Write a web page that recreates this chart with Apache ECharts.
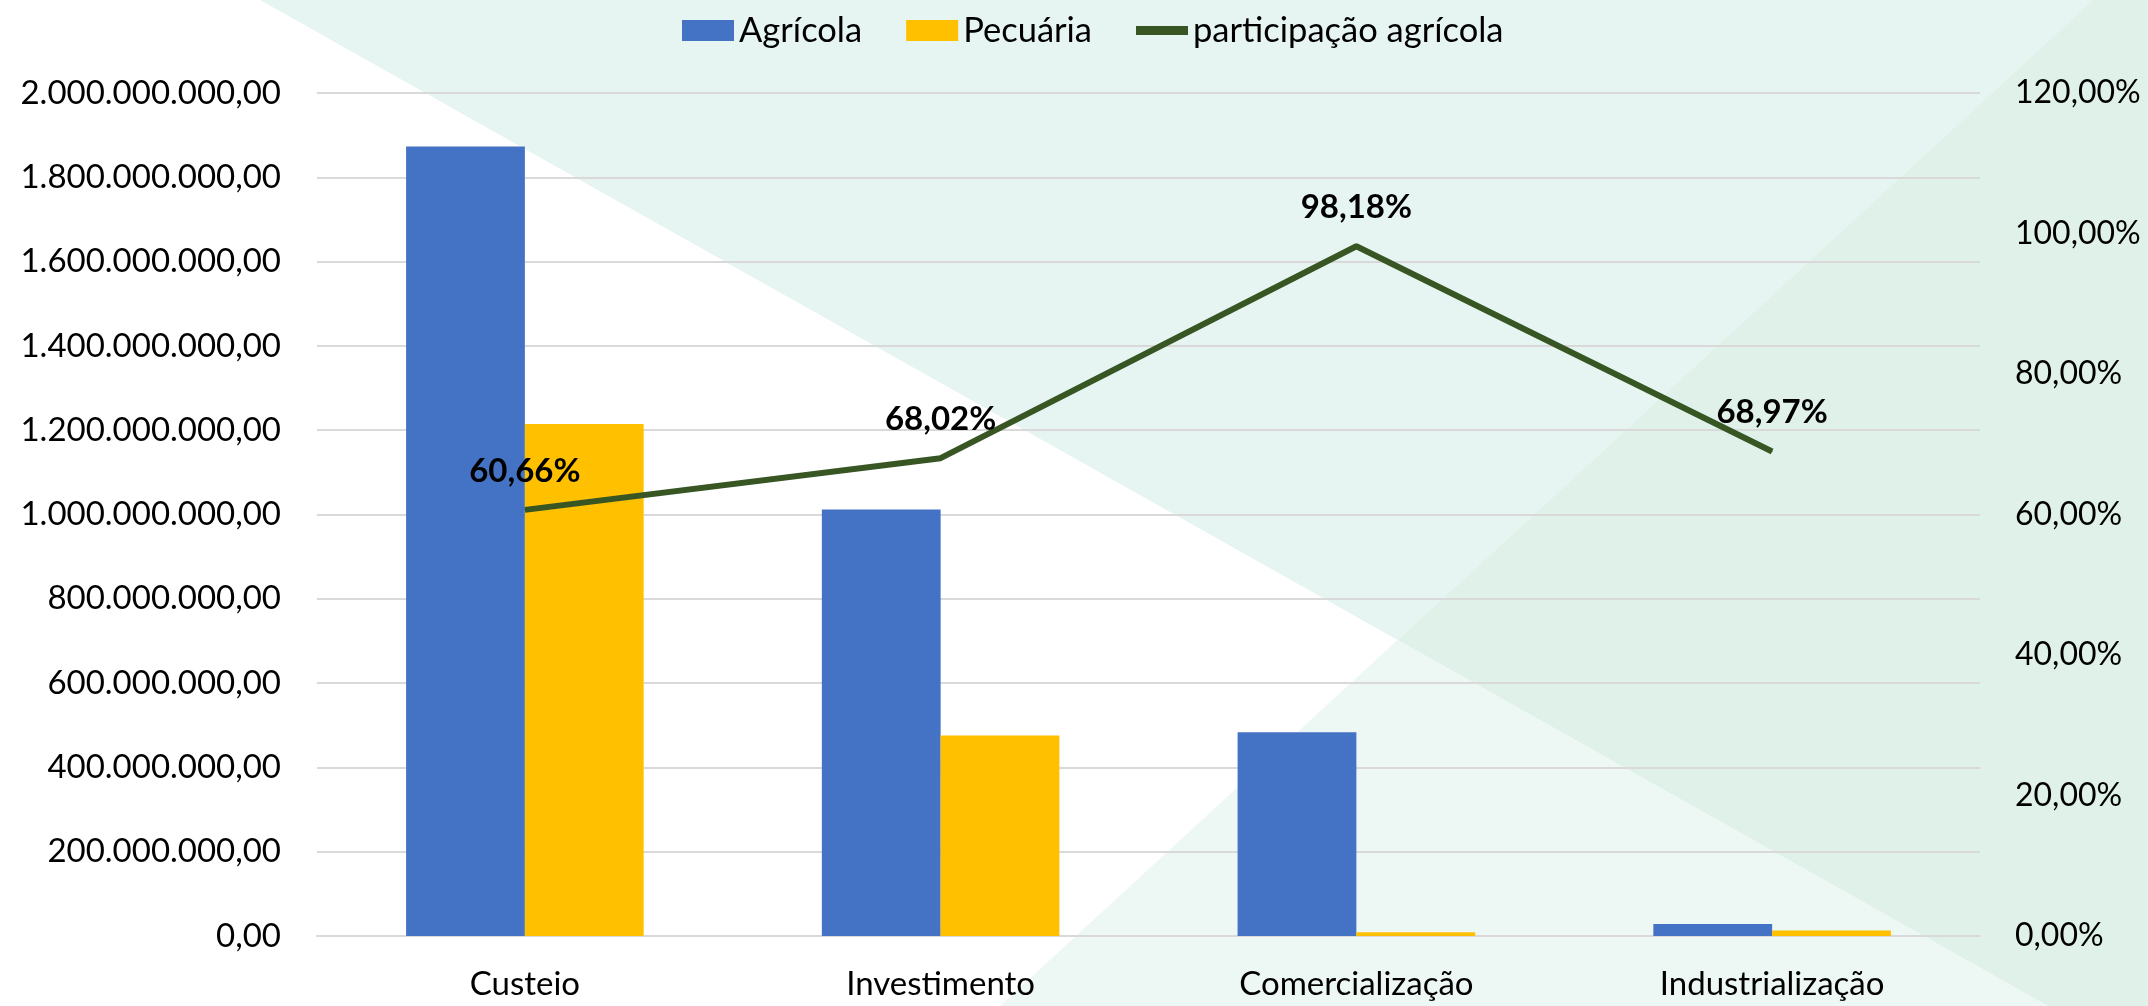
<!DOCTYPE html>
<html>
<head>
<meta charset="utf-8">
<script src="https://cdn.jsdelivr.net/npm/echarts@6/dist/echarts.min.js"></script>
<style>
  html, body { margin: 0; padding: 0; background: #ffffff; }
  #chart { width: 2148px; height: 1006px; }
</style>
</head>
<body>
<div id="chart"></div>
<script>
// ---- data ----
const categories = ['Custeio', 'Investimento', 'Comercialização', 'Industrialização'];
const agricola = [1873000000, 1012000000, 483500000, 28500000];
const pecuaria = [1214700000, 475800000, 9000000, 12800000];
const participacao = [0.6066, 0.6802, 0.9818, 0.6897];
const seriesNames = ['Agrícola', 'Pecuária', 'participação agrícola'];

// ---- formatting helpers ----
function fmtBRL(v) {
  const s = Math.round(v).toString().replace(/\B(?=(\d{3})+(?!\d))/g, '.');
  return s + ',00';
}
function fmtPct(v) {
  return (v * 100).toFixed(2).replace('.', ',') + '%';
}

const FONT = 'Lato';
const W = 2148, H = 1006;

const chart = echarts.init(document.getElementById('chart'), null, { renderer: 'canvas' });

// decorative background shapes
const ix = 1397.6, iy = 640;
const bg = [
  { type: 'polygon', z: -10, silent: true,
    shape: { points: [[260, 0], [2093, 0], [ix, iy]] },
    style: { fill: '#e7f5f2' } },
  { type: 'polygon', z: -10, silent: true,
    shape: { points: [[2093, 0], [W, 0], [W, H], [2048, H], [ix, iy]] },
    style: { fill: '#dff1e9' } },
  { type: 'polygon', z: -10, silent: true,
    shape: { points: [[ix, iy], [2048, H], [1000, H]] },
    style: { fill: '#edf7f4' } }
];

const option = {
  backgroundColor: '#ffffff',
  animation: false,
  graphic: { elements: bg },
  legend: {
    top: 8,
    left: 677,
    itemGap: 44,
    itemWidth: 52,
    itemHeight: 21,
    textStyle: { fontFamily: FONT, fontSize: 34.5, color: '#000' },
    data: [
      { name: seriesNames[0], icon: 'rect' },
      { name: seriesNames[1], icon: 'rect' },
      { name: seriesNames[2], icon: 'path://M0,0H40V7H0Z', itemStyle: { color: '#375623' } }
    ]
  },
  grid: { left: 317, right: 168, top: 93, bottom: 70, containLabel: false },
  xAxis: {
    type: 'category',
    data: categories,
    axisTick: { show: false },
    axisLine: { show: true, lineStyle: { color: '#d9d9d9', width: 2 } },
    axisLabel: { fontFamily: FONT, fontSize: 33, color: '#000', margin: 32 }
  },
  yAxis: [
    {
      type: 'value', min: 0, max: 2000000000, interval: 200000000,
      axisLine: { show: false }, axisTick: { show: false },
      splitLine: { lineStyle: { color: '#d9d9d9', width: 2 } },
      axisLabel: { fontFamily: FONT, fontSize: 33, color: '#000', margin: 36, formatter: fmtBRL }
    },
    {
      type: 'value', min: 0, max: 1.2, interval: 0.2,
      axisLine: { show: false }, axisTick: { show: false },
      splitLine: { show: false },
      axisLabel: { fontFamily: FONT, fontSize: 32, color: '#000', margin: 35, formatter: fmtPct }
    }
  ],
  series: [
    {
      name: seriesNames[0], type: 'bar', data: agricola,
      barGap: '0%', barCategoryGap: '42.86%',
      itemStyle: { color: '#4472c4' }
    },
    {
      name: seriesNames[1], type: 'bar', data: pecuaria,
      barGap: '0%', barCategoryGap: '42.86%',
      itemStyle: { color: '#ffc000' }
    },
    {
      name: seriesNames[2], type: 'line', yAxisIndex: 1, data: participacao,
      symbol: 'circle', symbolSize: 1, showSymbol: true,
      lineStyle: { color: '#375623', width: 6 },
      itemStyle: { color: '#375623' },
      z: 5,
      label: {
        show: true, position: 'top', distance: 22,
        fontFamily: FONT, fontSize: 33, fontWeight: 'bold', color: '#000',
        formatter: p => fmtPct(p.value)
      }
    }
  ]
};
chart.setOption(option);
</script>
</body>
</html>
